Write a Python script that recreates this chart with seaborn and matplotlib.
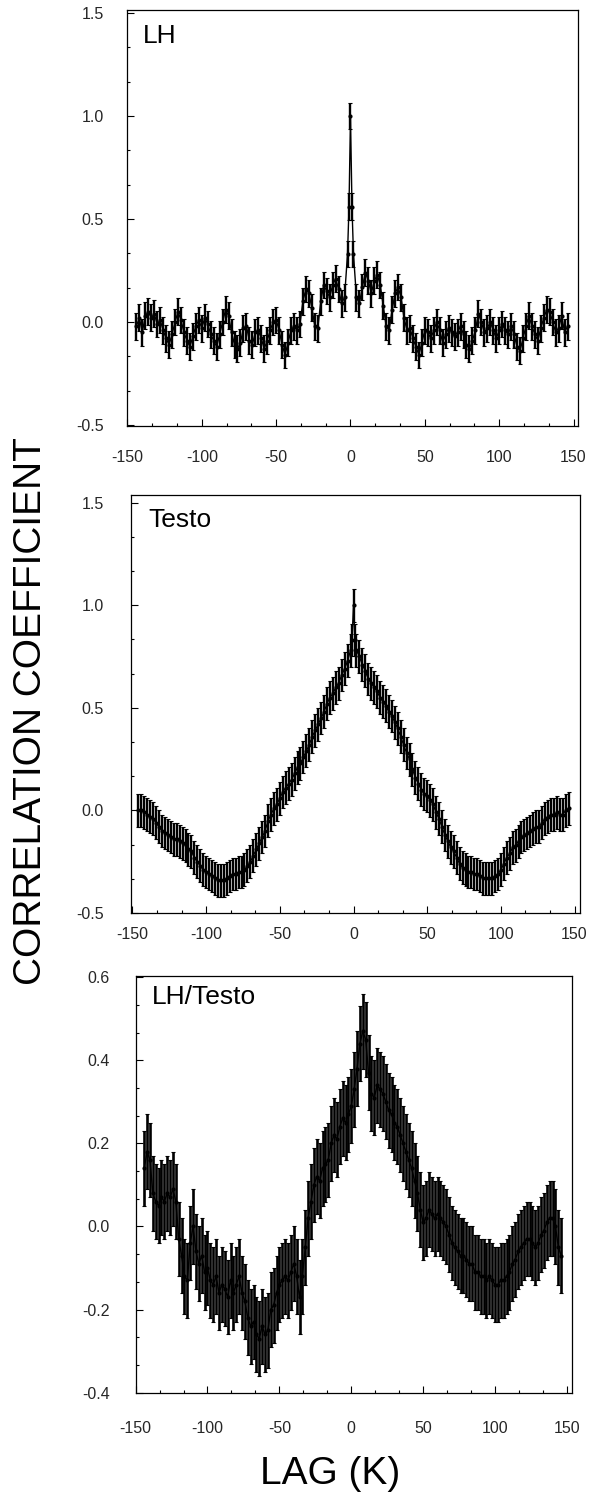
import numpy as np
import pandas as pd
import matplotlib
matplotlib.use("Agg")
import matplotlib.pyplot as plt
from matplotlib.ticker import MultipleLocator, FormatStrFormatter
import seaborn as sns

# ---------------- data ----------------
lh_lags = list(range(-144, -1, 2)) + [-1, 0, 1] + list(range(2, 147, 2))
testo_lags = list(range(-146, -1, 2)) + [-1, 0, 1] + list(range(2, 147, 2))
ratio_lags = list(range(-144, 147, 2))

lh_r = [
    -0.02, 0.02, -0.05, 0.03, 0.05, 0.02, 0.04, -0.01, 0.01, -0.04,
    -0.08, -0.11, -0.06, 0.00, 0.05, 0.01, -0.05, -0.09, -0.12, -0.07,
    -0.02, 0.01, -0.03, 0.02, -0.01, -0.06, -0.09, -0.12, -0.06, 0.00,
    0.06, 0.03, -0.05, -0.11, -0.13, -0.10, -0.03, -0.02, -0.09, -0.11,
    -0.05, -0.04, -0.08, -0.13, -0.09, -0.04, 0.00, 0.01, -0.04, -0.11,
    -0.16, -0.10, -0.04, -0.02, -0.04, -0.01, 0.10, 0.16, 0.14, 0.07,
    -0.02, -0.03, 0.10, 0.18, 0.15, 0.12, 0.18, 0.21, 0.16, 0.09,
    0.12, 0.33,
    0.56, 1.00, 0.56,
    0.33, 0.12, 0.09, 0.17, 0.24, 0.20, 0.14, 0.20, 0.23, 0.18,
    0.08, -0.02, -0.04, 0.06, 0.14, 0.17, 0.12, 0.02, -0.04, -0.03,
    -0.08, -0.12, -0.16, -0.10, -0.04, -0.05, -0.08, -0.04, 0.00, -0.04,
    -0.10, -0.06, -0.03, -0.05, -0.07, -0.05, -0.02, -0.06, -0.11, -0.13,
    -0.09, -0.04, 0.04, 0.00, -0.05, -0.03, 0.00, -0.04, -0.08, -0.04,
    -0.01, -0.04, -0.06, -0.02, -0.06, -0.12, -0.14, -0.08, -0.02, 0.03,
    -0.02, -0.06, -0.09, -0.03, 0.02, 0.06, 0.05, 0.00, -0.05, -0.03,
    0.03, -0.05, -0.02,
]

testo_r = [
    0.00, 0.00, -0.01, -0.02, -0.03, -0.04, -0.06, -0.08, -0.10, -0.11,
    -0.12, -0.13, -0.14, -0.14, -0.15, -0.16, -0.17, -0.19, -0.20, -0.23,
    -0.25, -0.27, -0.29, -0.30, -0.31, -0.32, -0.33, -0.34, -0.34, -0.34,
    -0.33, -0.32, -0.31, -0.31, -0.30, -0.30, -0.29, -0.27, -0.25, -0.22,
    -0.19, -0.16, -0.13, -0.10, -0.05, -0.02, 0.01, 0.03, 0.06, 0.09,
    0.11, 0.13, 0.15, 0.18, 0.21, 0.23, 0.26, 0.29, 0.32, 0.36,
    0.39, 0.42, 0.45, 0.48, 0.52, 0.55, 0.57, 0.60, 0.62, 0.66,
    0.69, 0.73, 0.78,
    0.83, 1.00, 0.83,
    0.78, 0.75, 0.71, 0.68, 0.64, 0.62, 0.60, 0.58, 0.55, 0.53,
    0.51, 0.48, 0.46, 0.43, 0.40, 0.36, 0.32, 0.28, 0.25, 0.20,
    0.16, 0.13, 0.10, 0.08, 0.07, 0.05, 0.03, -0.01, -0.04, -0.08,
    -0.12, -0.15, -0.18, -0.20, -0.23, -0.26, -0.28, -0.29, -0.30, -0.30,
    -0.31, -0.31, -0.32, -0.33, -0.33, -0.33, -0.33, -0.32, -0.31, -0.29,
    -0.26, -0.23, -0.21, -0.18, -0.17, -0.15, -0.13, -0.12, -0.11, -0.10,
    -0.09, -0.08, -0.08, -0.06, -0.04, -0.03, -0.02, -0.02, -0.01, -0.02,
    -0.02, 0.00, 0.01,
]

ratio_r = [
    0.14, 0.18, 0.16, 0.08, 0.06, 0.05, 0.07, 0.06, 0.08, 0.07,
    0.09, 0.06, -0.03, -0.07, -0.12, -0.13, -0.04, 0.00, -0.06, -0.09,
    -0.07, -0.11, -0.10, -0.13, -0.14, -0.12, -0.16, -0.14, -0.15, -0.17,
    -0.13, -0.16, -0.14, -0.12, -0.16, -0.18, -0.22, -0.24, -0.23, -0.26,
    -0.27, -0.24, -0.26, -0.25, -0.20, -0.19, -0.16, -0.14, -0.13, -0.12,
    -0.13, -0.11, -0.09, -0.12, -0.17, -0.12, -0.05, 0.02, 0.06, 0.10,
    0.12, 0.11, 0.14, 0.15, 0.16, 0.20, 0.22, 0.21, 0.24, 0.26,
    0.25, 0.27,
    0.29, 0.33, 0.38, 0.44, 0.47, 0.45, 0.37, 0.32, 0.31, 0.34,
    0.33, 0.32, 0.30, 0.28, 0.27, 0.25, 0.24, 0.22, 0.20, 0.18,
    0.16, 0.14, 0.11, 0.08, 0.04, 0.01, 0.02, 0.04, 0.03, 0.02,
    0.03, 0.02, 0.01, 0.00, -0.02, -0.04, -0.05, -0.06, -0.07, -0.07,
    -0.08, -0.09, -0.09, -0.11, -0.11, -0.12, -0.12, -0.13, -0.12, -0.13,
    -0.14, -0.14, -0.13, -0.13, -0.12, -0.11, -0.09, -0.08, -0.06, -0.05,
    -0.04, -0.03, -0.03, -0.04, -0.05, -0.04, -0.02, -0.01, 0.01, 0.02,
    0.02, 0.00, -0.05, -0.07,
]

lh_err = 0.065
testo_err = 0.08
ratio_err = 0.09

panel_titles = ["LH", "Testo", "LH/Testo"]
y_label = "CORRELATION COEFFICIENT"
x_label = "LAG (K)"

# ---------------- style ----------------
sns.set_style("ticks")
plt.rcParams["font.family"] = ["Liberation Sans", "DejaVu Sans"]
plt.rcParams["axes.unicode_minus"] = False

W, H = 604, 1496
fig = plt.figure(figsize=(W / 100, H / 100), dpi=100)


def rect(l, r, t, b):
    return [l / W, 1 - b / H, (r - l) / W, (b - t) / H]


panels = [
    dict(lags=lh_lags, r=lh_r, err=lh_err, title=panel_titles[0],
         rect=rect(127, 578, 10, 426), xlim=(-150.3, 153.0), ylim=(-0.505, 1.515),
         ymaj=0.5, title_xy=(0.035, 0.966), xpad=17, ypad=16.5, elw=1.7),
    dict(lags=testo_lags, r=testo_r, err=testo_err, title=panel_titles[1],
         rect=rect(131, 580, 495, 913), xlim=(-151.0, 153.7), ylim=(-0.50, 1.537),
         ymaj=0.5, title_xy=(0.038, 0.969), xpad=10, ypad=19.5, elw=1.7),
    dict(lags=ratio_lags, r=ratio_r, err=ratio_err, title=panel_titles[2],
         rect=rect(135.6, 572, 976, 1393), xlim=(-150.0, 153.5), ylim=(-0.401, 0.603),
         ymaj=0.2, title_xy=(0.038, 0.978), xpad=20, ypad=18.5, elw=1.9),
]

for p in panels:
    ax = fig.add_axes(p["rect"])
    df = pd.DataFrame({"lag": p["lags"], "r": p["r"]})
    ax.errorbar(df["lag"], df["r"], yerr=p["err"], fmt="none", ecolor="black",
                elinewidth=p["elw"], capsize=1.5, capthick=0.8, zorder=2)
    sns.lineplot(data=df, x="lag", y="r", ax=ax, color="black", linewidth=1.0,
                 marker="o", markersize=3.0, markeredgewidth=0, zorder=3,
                 errorbar=None)
    ax.set_xlim(*p["xlim"])
    ax.set_ylim(*p["ylim"])
    ax.set_xlabel("")
    ax.set_ylabel("")
    ax.xaxis.set_major_locator(MultipleLocator(50))
    ax.xaxis.set_minor_locator(MultipleLocator(50 / 3))
    ax.yaxis.set_major_locator(MultipleLocator(p["ymaj"]))
    ax.yaxis.set_minor_locator(MultipleLocator(p["ymaj"] / 3))
    ax.xaxis.set_major_formatter(FormatStrFormatter("%d"))
    ax.yaxis.set_major_formatter(FormatStrFormatter("%.1f"))
    ax.tick_params(which="both", direction="in", top=False, right=False,
                   width=0.8, color="black")
    ax.tick_params(which="major", length=5)
    ax.tick_params(which="minor", length=2)
    ax.tick_params(axis="x", which="major", pad=p["xpad"], labelsize=11.5)
    ax.tick_params(axis="y", which="major", pad=p["ypad"], labelsize=11.5)
    for s in ax.spines.values():
        s.set_visible(True)
        s.set_linewidth(0.9)
        s.set_color("black")
    ax.text(p["title_xy"][0], p["title_xy"][1], p["title"], transform=ax.transAxes,
            ha="left", va="top", fontsize=19, color="black")

fig.text(31 / W, 1 - 711 / H, y_label, rotation=90, ha="center", va="center",
         fontsize=28, color="black")
fig.text(330 / W, 1 - 1484 / H, x_label, ha="center", va="baseline",
         fontsize=28, color="black")

fig.savefig("out.png", dpi=100, facecolor="white")
